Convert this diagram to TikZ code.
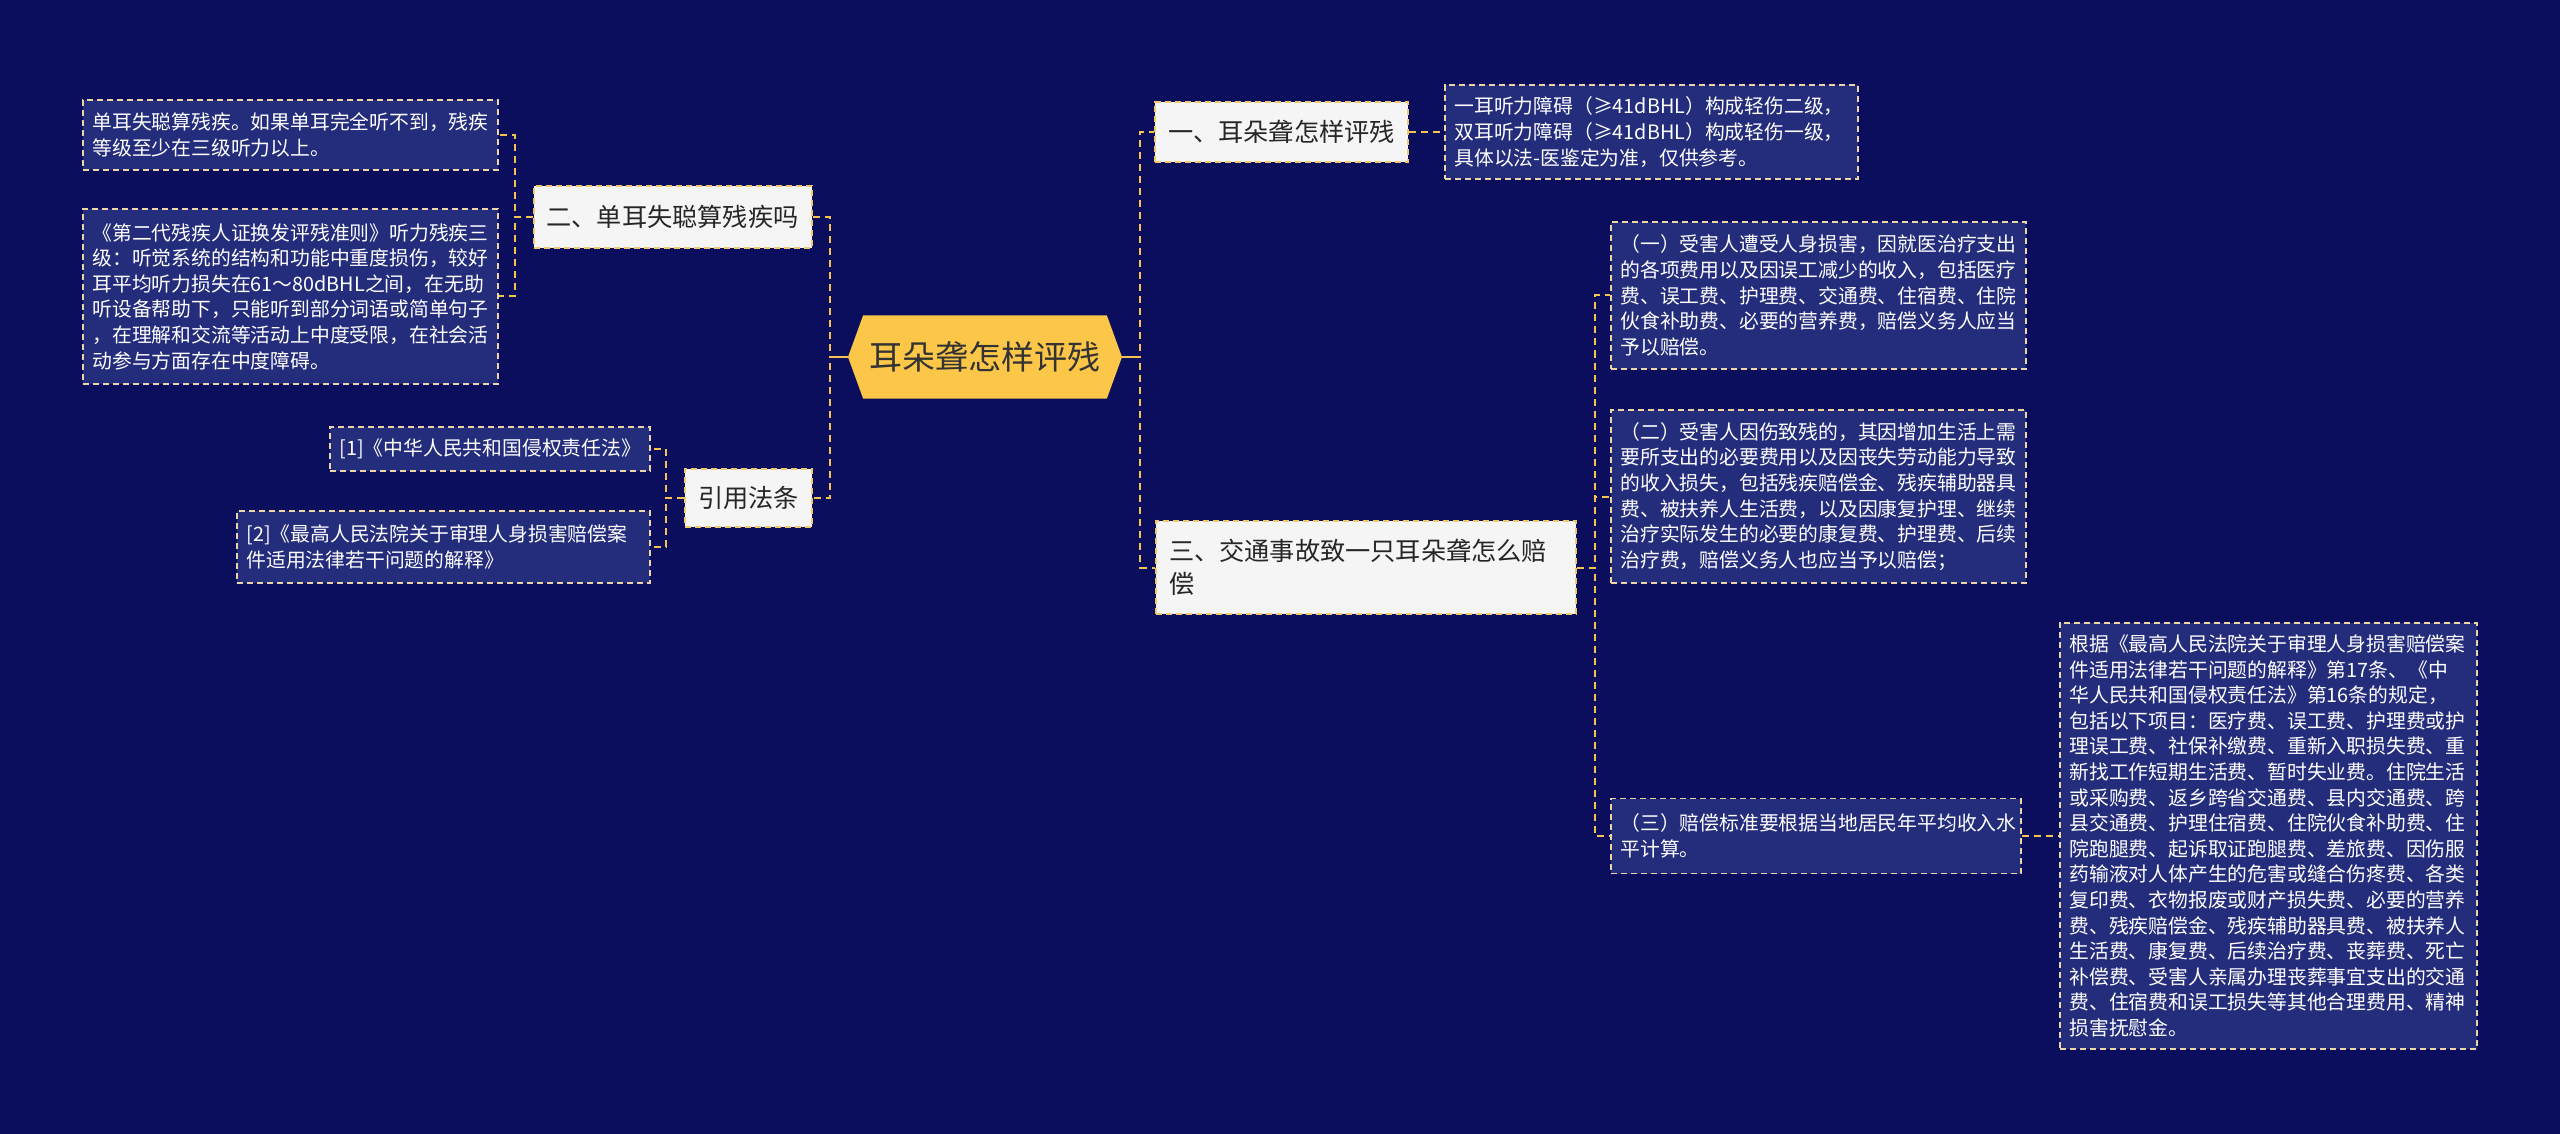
\documentclass[tikz,border=0pt]{standalone}
\usepackage{fontspec}
\newfontfamily\cjk{Noto Sans CJK SC}
\usetikzlibrary{shapes.symbols}
\definecolor{bgnavy}{RGB}{10,14,92}
\definecolor{leafblue}{RGB}{36,44,124}
\definecolor{leafedge}{RGB}{236,214,168}
\definecolor{topicfill}{RGB}{245,245,245}
\definecolor{topicedge}{RGB}{240,200,110}
\definecolor{rootfill}{RGB}{252,199,72}
\definecolor{linegold}{RGB}{245,196,80}
\begin{document}
\begin{tikzpicture}
[x=0.5pt,y=-0.5pt,
 rootdecorate/.style={shape=signal,signal to=west and east,signal pointer angle=140,
   fill=rootfill,minimum width=137pt,minimum height=41.5pt,inner sep=0pt,
   font=\cjk\fontsize{16.5}{20}\selectfont,text=black!80},
 topicdecorate/.style={shape=rectangle,fill=topicfill,draw=topicedge,line width=1pt,
   dash pattern=on 3pt off 2pt,inner xsep=6.5pt,inner ysep=0pt,minimum height=30pt,
   font=\cjk\fontsize{12.6}{16.5}\selectfont,text=black!85,align=left},
 leafdecorate/.style={shape=rectangle,fill=leafblue,draw=leafedge,line width=0.8pt,
   dash pattern=on 3pt off 2pt,inner xsep=4.75pt,inner ysep=6pt,text width=198pt,
   font=\cjk\fontsize{9.9}{12.8}\selectfont,text=white,align=left},
 linedecorate/.style={draw=linegold,line width=1pt,dash pattern=on 3.5pt off 2.5pt},
 rootline/.style={draw=linegold,line width=1.2pt}]
%% background
\fill[bgnavy] (0,0) rectangle (2560,1134);
\useasboundingbox (0,0) rectangle (2560,1134);
%% nodes or vertices
\node (root) at (985,357) [rootdecorate] {耳朵聋怎样评残};
\node (topicA) at (1281.5,132) [topicdecorate] {一、耳朵聋怎样评残};
\node (topicC) at (1366,567.5) [topicdecorate,text width=197pt,minimum height=46.5pt] {三、交通事故致一只耳朵聋怎么赔\\偿};
\node (topicB) at (672.5,217) [topicdecorate,minimum height=31pt] {二、单耳失聪算残疾吗};
\node (topicD) at (748.5,498) [topicdecorate,minimum height=29pt] {引用法条};
\node (leafR) at (1651.5,132) [leafdecorate,text width=197pt,minimum height=46.5pt]
  {一耳听力障碍（≥41dBHL）构成轻伤二级，\\双耳听力障碍（≥41dBHL）构成轻伤一级，\\具体以法-医鉴定为准，仅供参考。};
\node (leafA) at (1818.5,295.5) [leafdecorate,minimum height=73.5pt]
  {（一）受害人遭受人身损害，因就医治疗支出\\的各项费用以及因误工减少的收入，包括医疗\\费、误工费、护理费、交通费、住宿费、住院\\伙食补助费、必要的营养费，赔偿义务人应当\\予以赔偿。};
\node (leafB) at (1818.5,496.5) [leafdecorate,minimum height=86.5pt]
  {（二）受害人因伤致残的，其因增加生活上需\\要所支出的必要费用以及因丧失劳动能力导致\\的收入损失，包括残疾赔偿金、残疾辅助器具\\费、被扶养人生活费，以及因康复护理、继续\\治疗实际发生的必要的康复费、护理费、后续\\治疗费，赔偿义务人也应当予以赔偿；};
\node (leafC) at (1816,836) [leafdecorate,text width=195.5pt,minimum height=37.5pt]
  {（三）赔偿标准要根据当地居民年平均收入水\\平计算。};
\node (leafD) at (2268.5,836) [leafdecorate,text width=199pt,minimum height=213pt]
  {根据《最高人民法院关于审理人身损害赔偿案\\件适用法律若干问题的解释》第17条、《中\\华人民共和国侵权责任法》第16条的规定，\\包括以下项目：医疗费、误工费、护理费或护\\理误工费、社保补缴费、重新入职损失费、重\\新找工作短期生活费、暂时失业费。住院生活\\或采购费、返乡跨省交通费、县内交通费、跨\\县交通费、护理住宿费、住院伙食补助费、住\\院跑腿费、起诉取证跑腿费、差旅费、因伤服\\药输液对人体产生的危害或缝合伤疼费、各类\\复印费、衣物报废或财产损失费、必要的营养\\费、残疾赔偿金、残疾辅助器具费、被扶养人\\生活费、康复费、后续治疗费、丧葬费、死亡\\补偿费、受害人亲属办理丧葬事宜支出的交通\\费、住宿费和误工损失等其他合理费用、精神\\损害抚慰金。};
\node (leafL) at (290.5,135) [leafdecorate,minimum height=35pt]
  {单耳失聪算残疾。如果单耳完全听不到，残疾\\等级至少在三级听力以上。};
\node (leafM) at (290.5,296.5) [leafdecorate,minimum height=87.5pt]
  {《第二代残疾人证换发评残准则》听力残疾三\\级：听觉系统的结构和功能中重度损伤，较好\\耳平均听力损失在61～80dBHL之间，在无助\\听设备帮助下，只能听到部分词语或简单句子\\，在理解和交流等活动上中度受限，在社会活\\动参与方面存在中度障碍。};
\node (citeA) at (490,449) [leafdecorate,text width=150.5pt,minimum height=21pt]
  {[1]《中华人民共和国侵权责任法》};
\node (citeB) at (443.5,547) [leafdecorate,text width=197pt,minimum height=36pt]
  {[2]《最高人民法院关于审理人身损害赔偿案\\件适用法律若干问题的解释》};
%% edges or lines
\foreach \startnode/\endnode in {root/topicA, root/topicC, topicA/leafR,
    topicC/leafA, topicC/leafB, topicC/leafC, leafC/leafD} {
  \draw[linedecorate] (\startnode.east) -- ++(18,0) |- (\endnode.west);
}
\foreach \startnode/\endnode in {root/topicB, root/topicD, topicB/leafL,
    topicB/leafM, topicD/citeA, topicD/citeB} {
  \draw[linedecorate] (\startnode.west) -- ++(-18,0) |- (\endnode.east);
}
\draw[rootline] (root.east) -- ++(18,0);
\draw[rootline] (root.west) -- ++(-18,0);
\end{tikzpicture}
\end{document}
